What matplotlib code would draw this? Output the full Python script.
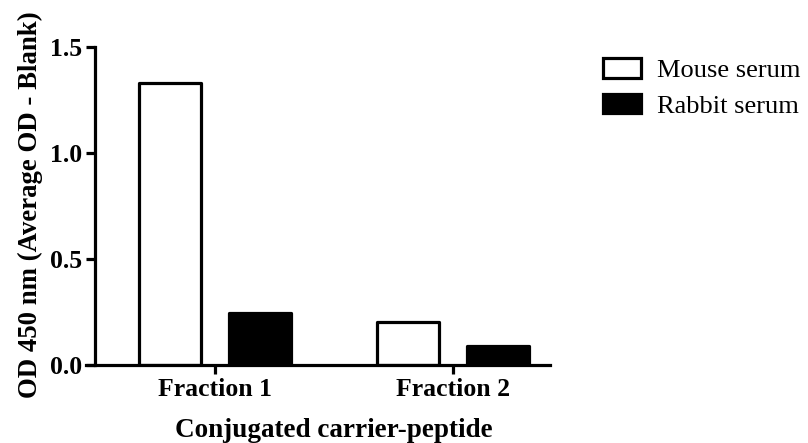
import numpy as np
import matplotlib
matplotlib.use("Agg")
import matplotlib.pyplot as plt

fractions = ["Fraction 1", "Fraction 2"]
series = ["Mouse serum", "Rabbit serum"]
mouse = [1.33, 0.205]
rabbit = [0.245, 0.09]

plt.rcParams["font.family"] = ["Liberation Serif", "DejaVu Serif"]

fig = plt.figure(figsize=(8.08, 4.43), dpi=100)
W, H = 808, 443
ax = fig.add_axes([86 / W, 1 - 365 / H, (550 - 86) / W, (365 - 47) / H])

x = np.arange(len(fractions))
width = 0.26
off = 0.19
lw = 2.3
ax.bar(x - off, mouse, width, facecolor="white", edgecolor="black",
       linewidth=lw, joinstyle="round", label=series[0], zorder=2)
ax.bar(x + off, rabbit, width, facecolor="black", edgecolor="black",
       linewidth=lw, joinstyle="round", label=series[1], zorder=2)

ax.set_xlim(-0.542, 1.408)
ax.set_ylim(0, 1.5)
ax.spines["left"].set_position(("data", -0.504))
ax.spines["top"].set_visible(False)
ax.spines["right"].set_visible(False)
for s in ("left", "bottom"):
    ax.spines[s].set_linewidth(lw)

ax.set_xticks(x)
ax.set_xticklabels(fractions, fontsize=18.5, fontweight="bold")
ax.set_yticks([0.0, 0.5, 1.0, 1.5])
ax.set_yticklabels(["0.0", "0.5", "1.0", "1.5"], fontsize=18.5, fontweight="bold")
ax.tick_params(axis="both", length=6.5, width=lw, pad=3)

ax.set_ylabel("OD 450 nm (Average OD - Blank)", fontsize=19.3, fontweight="bold")
ax.yaxis.set_label_coords(-0.093, 0.505)
ax.set_xlabel("Conjugated carrier-peptide", fontsize=19.5, fontweight="bold")
ax.xaxis.set_label_coords((334 - 86) / (550 - 86), -0.166)

leg = ax.legend(loc="upper left", bbox_to_anchor=(590 / W, 1 - 45 / H),
                bbox_transform=fig.transFigure, frameon=False, fontsize=19,
                handlelength=1.45, handleheight=0.75, labelspacing=0.45,
                handletextpad=0.6, borderpad=0)

fig.savefig("out.png", dpi=100)
